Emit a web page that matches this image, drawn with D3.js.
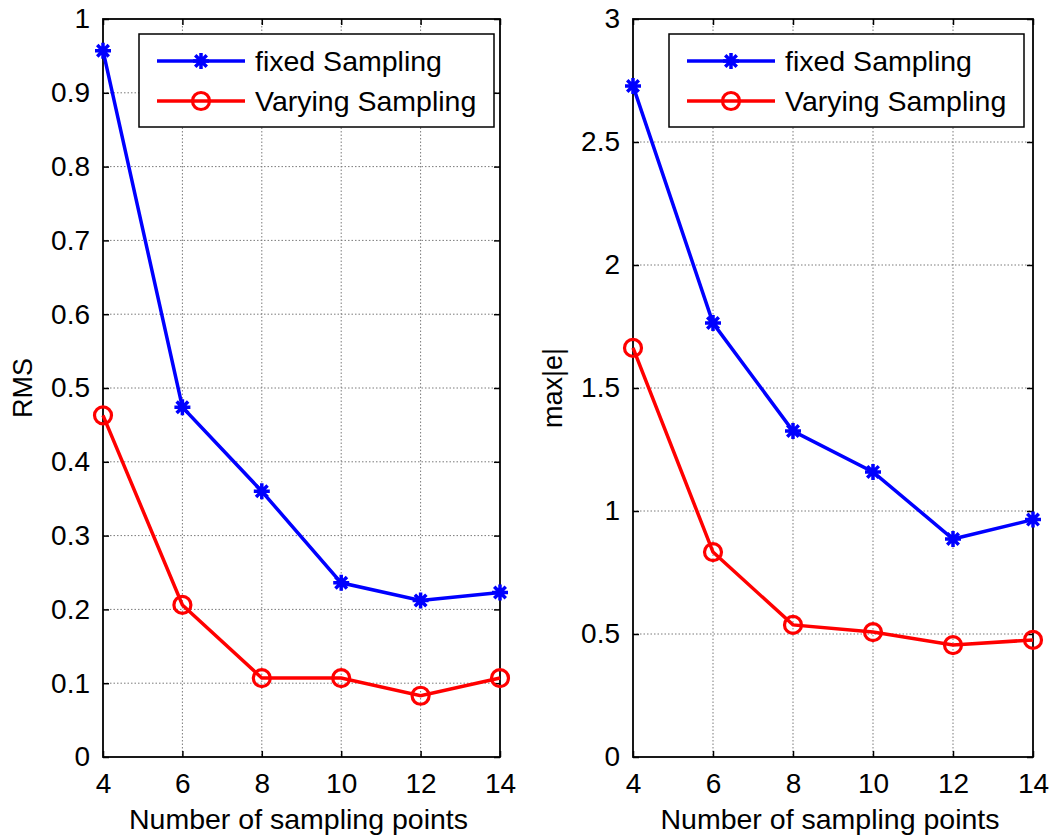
<!DOCTYPE html>
<html>
<head>
<meta charset="utf-8">
<script src="https://cdn.jsdelivr.net/npm/d3@7"></script>
<style>
  html, body { margin: 0; padding: 0; background: #fff; }
  svg text { font-family: "Liberation Sans", Arial, sans-serif; fill: #000; }
</style>
</head>
<body>
<svg id="chart" width="1054" height="840"></svg>
<script>
const xValues = [4, 6, 8, 10, 12, 14];
const xTicks = [4, 6, 8, 10, 12, 14];
const rmsFixed = [0.957, 0.474, 0.360, 0.236, 0.212, 0.223];
const rmsVarying = [0.463, 0.206, 0.107, 0.107, 0.083, 0.107];
const maxFixed = [2.728, 1.764, 1.325, 1.159, 0.886, 0.965];
const maxVarying = [1.663, 0.833, 0.537, 0.508, 0.455, 0.476];
const rmsTicks = [0, 0.1, 0.2, 0.3, 0.4, 0.5, 0.6, 0.7, 0.8, 0.9, 1];
const rmsTickLabels = ["0", "0.1", "0.2", "0.3", "0.4", "0.5", "0.6", "0.7", "0.8", "0.9", "1"];
const maxTicks = [0, 0.5, 1, 1.5, 2, 2.5, 3];
const maxTickLabels = ["0", "0.5", "1", "1.5", "2", "2.5", "3"];
const seriesNames = ["fixed Sampling", "Varying Sampling"];
const xLabel = "Number of sampling points";

const svg = d3.select("#chart");
const FS = 28;

function panel(cfg) {
  const g = svg.append("g");
  const x = d3.scaleLinear().domain([4, 14]).range([cfg.left, cfg.right]);
  const y = d3.scaleLinear().domain(cfg.ydomain).range([757, 19]);
  const top = 19, bottom = 757;

  // grid
  const grid = g.append("g").attr("stroke", "#7a7a7a").attr("stroke-width", 1).attr("stroke-dasharray", "1.5,2");
  xTicks.slice(1, -1).forEach(t => grid.append("line").attr("x1", x(t)).attr("x2", x(t)).attr("y1", top).attr("y2", bottom));
  cfg.yticks.slice(1, -1).forEach(t => grid.append("line").attr("x1", cfg.left).attr("x2", cfg.right).attr("y1", y(t)).attr("y2", y(t)));

  // axes with inward ticks
  const axB = g.append("g").attr("transform", `translate(0,${bottom})`)
    .call(d3.axisBottom(x).tickValues(xTicks).tickSizeInner(-6).tickSizeOuter(0).tickPadding(16));
  const axT = g.append("g").attr("transform", `translate(0,${top})`)
    .call(d3.axisTop(x).tickValues(xTicks).tickSizeInner(-6).tickSizeOuter(0).tickFormat(""));
  const axL = g.append("g").attr("transform", `translate(${cfg.left},0)`)
    .call(d3.axisLeft(y).tickValues(cfg.yticks).tickSizeInner(-6).tickSizeOuter(0).tickPadding(13)
      .tickFormat((d, i) => cfg.ylabels[i]));
  const axR = g.append("g").attr("transform", `translate(${cfg.right},0)`)
    .call(d3.axisRight(y).tickValues(cfg.yticks).tickSizeInner(-6).tickSizeOuter(0).tickFormat(""));
  [axB, axT, axL, axR].forEach(a => {
    a.select(".domain").remove();
    a.selectAll("line").attr("stroke", "#000").attr("stroke-width", 1.5);
    a.selectAll("text").style("font-size", FS + "px").style("font-family", '"Liberation Sans", Arial, sans-serif');
  });
  axB.selectAll("text").attr("dy", "0.71em");
  g.append("rect").attr("x", cfg.left).attr("y", top).attr("width", cfg.right - cfg.left).attr("height", bottom - top)
    .attr("fill", "none").attr("stroke", "#000").attr("stroke-width", 1.8);

  // labels
  g.append("text").attr("x", (cfg.left + cfg.right) / 2 - 3).attr("y", 829).attr("text-anchor", "middle")
    .style("font-size", "28.5px").text(xLabel);
  g.append("text").attr("transform", `translate(${cfg.left - 71},${(top + bottom) / 2}) rotate(-90)`)
    .attr("text-anchor", "middle").style("font-size", "27px").text(cfg.ylabel);

  const line = d3.line().x((d, i) => x(xValues[i])).y(d => y(d));

  // series
  const starPath = r => {
    const d = r * 0.72;
    return `M${-r},0L${r},0M0,${-r}L0,${r}M${-d},${-d}L${d},${d}M${-d},${d}L${d},${-d}`;
  };
  g.append("path").datum(cfg.fixed).attr("d", line).attr("fill", "none").attr("stroke", "#0000ff").attr("stroke-width", 3.5);
  g.selectAll(".star").data(cfg.fixed).enter().append("path")
    .attr("transform", (d, i) => `translate(${x(xValues[i])},${y(d)})`)
    .attr("d", starPath(8)).attr("stroke", "#0000ff").attr("stroke-width", 3.5).attr("fill", "none");
  g.append("path").datum(cfg.varying).attr("d", line).attr("fill", "none").attr("stroke", "#ff0000").attr("stroke-width", 3.5);
  g.selectAll(".circ").data(cfg.varying).enter().append("circle")
    .attr("cx", (d, i) => x(xValues[i])).attr("cy", d => y(d)).attr("r", 8.5)
    .attr("fill", "none").attr("stroke", "#ff0000").attr("stroke-width", 3.2);

  // legend
  const lx = cfg.left + 36, ly = 34, lw = 355, lh = 93;
  const lg = g.append("g");
  lg.append("rect").attr("x", lx).attr("y", ly).attr("width", lw).attr("height", lh)
    .attr("fill", "#fff").attr("stroke", "#000").attr("stroke-width", 1.5);
  [0, 1].forEach(i => {
    const yy = ly + 27 + i * 40;
    lg.append("line").attr("x1", lx + 18).attr("x2", lx + 106).attr("y1", yy).attr("y2", yy)
      .attr("stroke", i === 0 ? "#0000ff" : "#ff0000").attr("stroke-width", 3.5);
    if (i === 0) {
      lg.append("path").attr("transform", `translate(${lx + 62},${yy})`).attr("d", starPath(8))
        .attr("stroke", "#0000ff").attr("stroke-width", 3.5).attr("fill", "none");
    } else {
      lg.append("circle").attr("cx", lx + 62).attr("cy", yy).attr("r", 8.5)
        .attr("fill", "none").attr("stroke", "#ff0000").attr("stroke-width", 3.2);
    }
    lg.append("text").attr("x", lx + 116).attr("y", yy).attr("dy", "0.36em")
      .style("font-size", "28.5px").text(seriesNames[i]);
  });
}

panel({ left: 103, right: 500, ydomain: [0, 1], yticks: rmsTicks, ylabels: rmsTickLabels,
  ylabel: "RMS", fixed: rmsFixed, varying: rmsVarying });
panel({ left: 633, right: 1033, ydomain: [0, 3], yticks: maxTicks, ylabels: maxTickLabels,
  ylabel: "max|e|", fixed: maxFixed, varying: maxVarying });
</script>
</body>
</html>
